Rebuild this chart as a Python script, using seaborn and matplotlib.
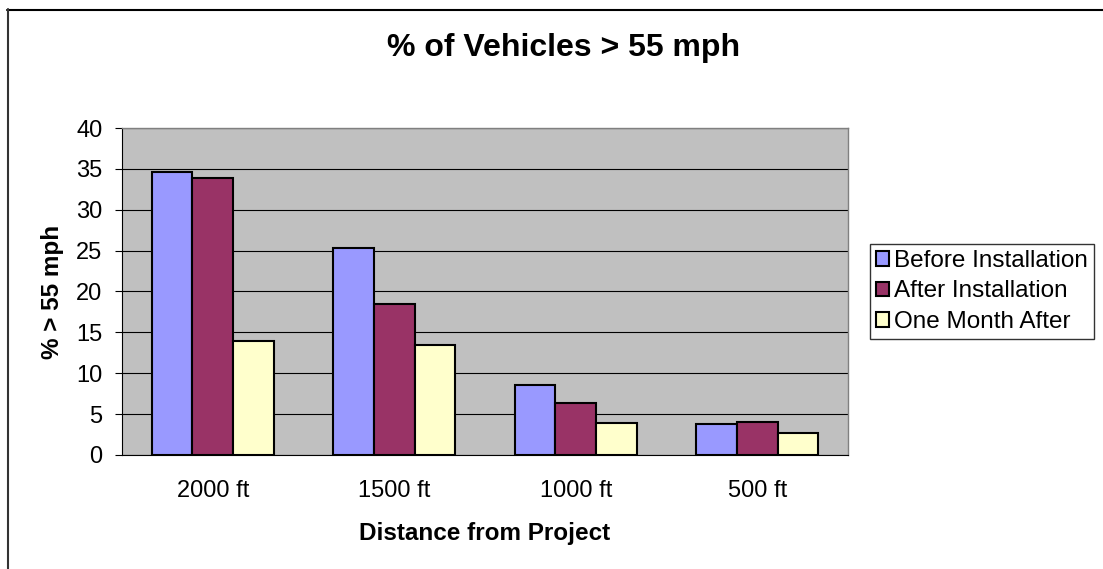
import pandas as pd
import numpy as np
import matplotlib
matplotlib.use("Agg")
import matplotlib.pyplot as plt
import seaborn as sns
from matplotlib.lines import Line2D

distances = ["2000 ft", "1500 ft", "1000 ft", "500 ft"]
before_install = [34.6, 25.3, 8.5, 3.8]
after_install = [33.9, 18.5, 6.3, 4.0]
month_after = [13.9, 13.4, 3.9, 2.7]
series_names = ["Before Installation", "After Installation", "One Month After"]
colors = ["#9999FF", "#993366", "#FFFFCC"]

df = pd.DataFrame({
    "distance": distances * 3,
    "pct": before_install + after_install + month_after,
    "series": np.repeat(series_names, len(distances)),
})

sns.set_style("white")
plt.rcParams["font.family"] = ["Liberation Sans", "DejaVu Sans"]
plt.rcParams.update({"text.color": "black", "axes.labelcolor": "black",
                     "xtick.color": "black", "ytick.color": "black"})

fig = plt.figure(figsize=(11.03, 5.69), dpi=100)
ax = fig.add_axes([0.1106, 0.2004, 0.6582, 0.5746])

sns.barplot(data=df, x="distance", y="pct", hue="series", order=distances,
            hue_order=series_names, palette=colors, width=0.67,
            edgecolor="black", linewidth=1.5, saturation=1, ax=ax, zorder=3)

ax.set_facecolor("#C0C0C0")
ax.set_ylim(0, 40)
ax.set_xlim(-0.5, 3.5)
ax.set_yticks(range(0, 41, 5))
ax.yaxis.grid(True, color="black", linewidth=0.8, zorder=0)
ax.set_axisbelow(True)

# ticks sit between the categories, like Excel
ax.set_xticks(np.arange(-0.5, 4.0, 1.0), minor=True)
ax.tick_params(axis="x", which="major", length=0, labelsize=17, pad=18, labelcolor="black")
ax.tick_params(axis="x", which="minor", length=5, direction="out", color="black", width=0.8)
ax.tick_params(axis="y", length=5, direction="out", color="black", width=0.8,
               labelsize=17, left=True, pad=9, labelcolor="black")

for side in ["top", "right"]:
    ax.spines[side].set_color("#808080")
    ax.spines[side].set_linewidth(1)
for side in ["left", "bottom"]:
    ax.spines[side].set_color("black")
    ax.spines[side].set_linewidth(0.8)

ax.set_xlabel("Distance from Project", fontsize=17.5, fontweight="bold", color="black")
ax.set_ylabel("% > 55 mph", fontsize=17.5, fontweight="bold", color="black")
ax.xaxis.set_label_coords(0.5, -0.205)
ax.yaxis.set_label_coords(-0.08, 0.5)
fig.text(0.511, 0.915, "% of Vehicles > 55 mph", ha="center", va="center",
         fontsize=23, fontweight="bold", color="black")

handles, labels = ax.get_legend_handles_labels()
leg = ax.legend(handles, labels, loc="center left", bbox_to_anchor=(1.03, 0.5),
                frameon=True, fancybox=False, edgecolor="black", fontsize=17.5,
                handlelength=0.55, handleheight=0.55, handletextpad=0.2,
                borderpad=0.25, labelspacing=0.35, borderaxespad=0)
leg.get_frame().set_linewidth(1)
for t in leg.get_texts():
    t.set_color("black")
for h in leg.legend_handles:
    h.set_edgecolor("black")
    h.set_linewidth(1.5)

# chart frame: only top and left edges show in the crop
W, H = 1103, 569
fig.add_artist(Line2D([7 / W, 1], [1 - 9.5 / H, 1 - 9.5 / H], color="black", linewidth=1.5))
fig.add_artist(Line2D([7.5 / W, 7.5 / W], [0, 1 - 9 / H], color="#333333", linewidth=1.5))

fig.savefig("out.png", dpi=100)
